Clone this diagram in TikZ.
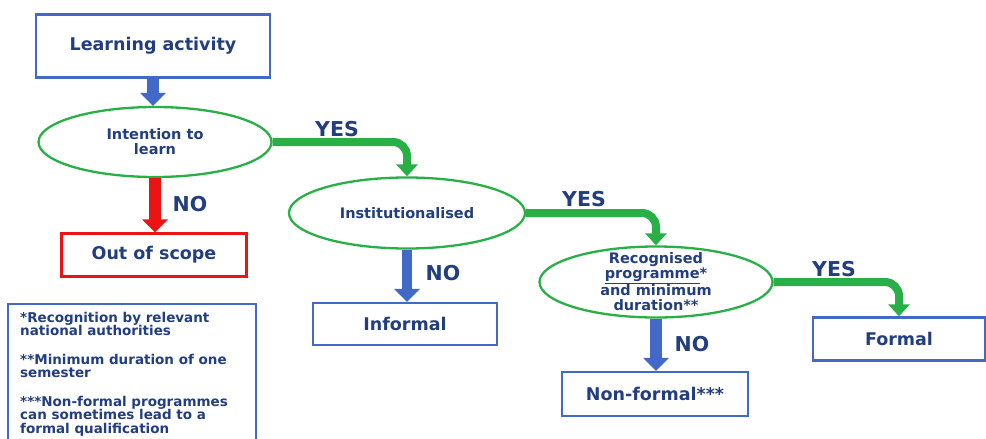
\documentclass[tikz,border=0pt]{standalone}
\usepackage{fontspec}
\setmainfont{DejaVu Sans}
\usetikzlibrary{shapes.geometric,arrows.meta}
\definecolor{boxblue}{RGB}{66,104,200}
\definecolor{txtblue}{RGB}{35,62,128}
\definecolor{ellgreen}{RGB}{40,175,70}
\definecolor{arrred}{RGB}{235,20,20}
\begin{document}
\begin{tikzpicture}[x=1pt,y=-1pt,
  bx/.style={draw=boxblue, line width=2.3pt, rectangle, inner sep=0pt, text=txtblue, font=\fontsize{17.5}{19}\selectfont\bfseries},
  rbx/.style={bx, draw=arrred},
  ell/.style={draw=ellgreen, line width=2.3pt, ellipse, inner sep=0pt, text=txtblue, align=center, font=\fontsize{14.5}{15}\selectfont\bfseries},
  elltext/.style={text=txtblue, align=center, inner sep=0pt, font=\fontsize{14.5}{15}\selectfont\bfseries},
  lbl/.style={text=txtblue, font=\fontsize{20.5}{22}\selectfont\bfseries, inner sep=0pt},
  downarrow/.style={line width=12pt, -{Triangle[width=25pt,length=13pt]}},
  greenarrow/.style={draw=ellgreen, line width=8pt, rounded corners=14pt, -{Triangle[width=21pt,length=12pt]}},
  note/.style={text=txtblue, font=\fontsize{13.5}{13.5}\selectfont\bfseries, align=left, inner sep=0pt, anchor=north west}
]
\useasboundingbox (0,0) rectangle (986,439);
\clip (0,0) rectangle (986,439);
\fill[white] (0,0) rectangle (986,439);

\node[bx, minimum width=234pt, minimum height=63pt] (la) at (153,46) {Learning activity};
\node[ell, minimum width=233pt, minimum height=70pt] (e1) at (155,142) {Intention to\\learn};
\node[rbx, minimum width=185pt, minimum height=43pt] (oos) at (154,255) {Out of scope};
\node[ell, minimum width=236pt, minimum height=71pt] (e2) at (407,213) {Institutionalised};
\node[bx, minimum width=184pt, minimum height=42pt] (inf) at (405,324) {Informal};
\node[ell, minimum width=233pt, minimum height=71pt] (e3) at (656,282) {};
\node[elltext] (e3t) at (e3.center) {Recognised\\\underline{programme}*\\and minimum\\duration**};
\node[bx, minimum width=186pt, minimum height=44pt] (nf) at (655,394) {Non-formal***};
\node[bx, minimum width=172pt, minimum height=43pt] (fo) at (899,339) {Formal};

\node[draw=boxblue, line width=2.3pt, rectangle, minimum width=248pt, minimum height=150pt, anchor=north west, inner sep=0pt] (fn) at (7,303) {};
\node[note] (t1) at (20,312) {*Recognition by relevant\\national authorities};
\node[note] (t2) at (20,354) {**Minimum duration of one\\semester};
\node[note] (t3) at (20,396) {***Non-formal programmes\\can sometimes lead to a\\formal qualification};

\draw[downarrow, draw=boxblue] (la.south) -- (la.south |- e1.north);
\draw[downarrow, draw=arrred] (e1.south) -- (e1.south |- oos.north);
\draw[downarrow, draw=boxblue, line width=10pt] (e2.south) -- (e2.south |- inf.north);
\draw[downarrow, draw=boxblue] (e3.south) -- (e3.south |- nf.north);

\draw[greenarrow] (e1.east) -| (e2.north);
\draw[greenarrow] (e2.east) -| (e3.north);
\draw[greenarrow] (e3.east) -| (fo.north);

\node[lbl] (no1) at (190,204) {NO};
\node[lbl] (no2) at (443,273) {NO};
\node[lbl] (no3) at (692,344) {NO};
\node[lbl] (y1) at (337,129) {YES};
\node[lbl] (y2) at (584,199) {YES};
\node[lbl] (y3) at (834,269) {YES};
\end{tikzpicture}
\end{document}
